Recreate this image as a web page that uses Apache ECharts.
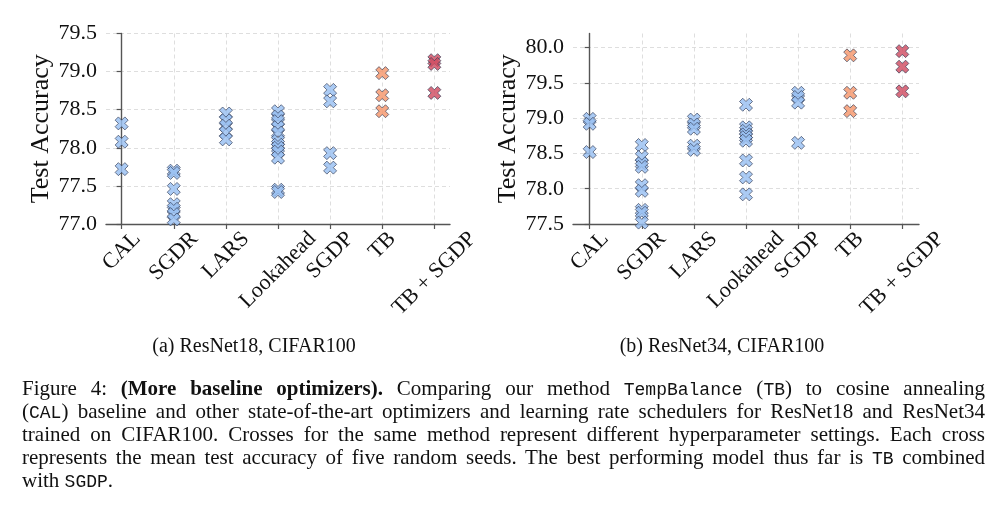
<!DOCTYPE html>
<html>
<head>
<meta charset="utf-8">
<script src="https://cdn.jsdelivr.net/npm/echarts@6/dist/echarts.min.js"></script>
<style>
html, body { margin: 0; padding: 0; background: #fff; }
#chart { position: absolute; left: 0; top: 0; width: 1005px; height: 511px; }
#caption { position: absolute; left: 22px; top: 377px; width: 963px;
  font-family: "Liberation Serif", serif; font-size: 21px; color: #111; }
#caption .ln { height: 23px; line-height: 23px; text-align: justify; text-align-last: justify; white-space: normal; }
#caption .last { text-align: left; text-align-last: left; }
#caption .tt { font-family: "Liberation Mono", "DejaVu Sans Mono", monospace; font-size: 18px; line-height: 10px; }
</style>
</head>
<body>
<div id="chart"></div>
<div id="caption">
  <div class="ln">Figure 4: <b>(More baseline optimizers).</b> Comparing our method <span class="tt">TempBalance</span> (<span class="tt">TB</span>) to cosine annealing</div>
  <div class="ln">(<span class="tt">CAL</span>) baseline and other state-of-the-art optimizers and learning rate schedulers for ResNet18 and ResNet34</div>
  <div class="ln">trained on CIFAR100. Crosses for the same method represent different hyperparameter settings. Each cross</div>
  <div class="ln">represents the mean test accuracy of five random seeds. The best performing model thus far is <span class="tt">TB</span> combined</div>
  <div class="ln last">with <span class="tt">SGDP</span>.</div>
</div>
<script>
// ---------- data ----------
const categories = ['CAL', 'SGDR', 'LARS', 'Lookahead', 'SGDP', 'TB', 'TB + SGDP'];
const yTicksLeft = [77.0, 77.5, 78.0, 78.5, 79.0, 79.5];
const yTicksRight = [77.5, 78.0, 78.5, 79.0, 79.5, 80.0];
const subtitles = ['(a) ResNet18, CIFAR100', '(b) ResNet34, CIFAR100'];

// ResNet18, CIFAR100
const r18CAL = [78.32, 78.08, 77.72];
const r18SGDR = [77.70, 77.67, 77.46, 77.26, 77.20, 77.13, 77.06];
const r18LARS = [78.45, 78.36, 78.29, 78.20, 78.11];
const r18Lookahead = [78.48, 78.41, 78.35, 78.27, 78.20, 78.09, 78.04, 78.00, 77.95, 77.87, 77.45, 77.42];
const r18SGDP = [78.76, 78.61, 77.93, 77.74];
const r18TB = [78.98, 78.69, 78.48];
const r18TBSGDP = [79.15, 79.10, 78.72];

// ResNet34, CIFAR100
const r34CAL = [78.99, 78.92, 78.52];
const r34SGDR = [78.62, 78.45, 78.36, 78.31, 78.05, 77.97, 77.70, 77.66, 77.52];
const r34LARS = [78.98, 78.91, 78.85, 78.61, 78.55];
const r34Lookahead = [79.19, 78.87, 78.82, 78.77, 78.73, 78.68, 78.40, 78.16, 77.92];
const r34SGDP = [79.36, 79.30, 79.22, 78.65];
const r34TB = [79.89, 79.36, 79.10];
const r34TBSGDP = [79.95, 79.73, 79.38];

const methodColors = ['#98c0f2', '#98c0f2', '#98c0f2', '#98c0f2', '#98c0f2', '#f5966b', '#cf4d62'];

// ---------- layout / style ----------
const SERIF = '"Liberation Serif", "Times New Roman", serif';
const AXIS_COLOR = '#555';
const GRID_COLOR = '#d6d6d6';
const XSYM = 'path://M3,0L4,1L3,2L4,3L3,4L2,3L1,4L0,3L1,2L0,1L1,0L2,1Z';
const LBL = 22;      // tick label font size
const LBL_PAD = 3.7; // gap between axis line and top of the rotated label's bounding box

const ctx = document.createElement('canvas').getContext('2d');
ctx.font = LBL + 'px ' + SERIF;
// rotated (45 deg), centre-anchored labels: the centre sits below the axis by pad + half the rotated box height
function labelMargin(text) {
  const w = ctx.measureText(text).width;
  return LBL_PAD + (w + LBL) / (2 * Math.SQRT2);
}

function xAxesFor(gridIndex, pad) {
  const min = -pad, max = categories.length - 1 + pad;
  const ticks = categories.map((c, i) => i);
  const main = {
    type: 'value', gridIndex: gridIndex, min: min, max: max, position: 'bottom',
    axisLine: { show: true, lineStyle: { color: AXIS_COLOR, width: 1.4 } },
    axisTick: { show: true, length: 5, customValues: ticks, lineStyle: { color: AXIS_COLOR, width: 1.2 } },
    axisLabel: { show: false },
    splitLine: { show: true, lineStyle: { color: GRID_COLOR, width: 0.8, type: [4, 3] } }
  };
  const labelAxes = categories.map((c, i) => ({
    type: 'value', gridIndex: gridIndex, min: min, max: max, position: 'bottom',
    axisLine: { show: false }, axisTick: { show: false }, splitLine: { show: false },
    axisLabel: {
      show: true, customValues: [i], rotate: 45, align: 'center', verticalAlign: 'middle',
      margin: labelMargin(c), fontFamily: SERIF, fontSize: LBL, color: '#111',
      showMinLabel: true, showMaxLabel: true,
      formatter: v => categories[Math.round(v)]
    }
  }));
  return [main].concat(labelAxes);
}
function yAxisFor(gridIndex, min, max, ticks) {
  return {
    type: 'value', gridIndex: gridIndex, min: min, max: max,
    name: 'Test Accuracy', nameLocation: 'middle', nameGap: 52,
    nameTextStyle: { fontFamily: SERIF, fontSize: 26, color: '#111' },
    axisLine: { show: true, lineStyle: { color: AXIS_COLOR, width: 1.4 } },
    axisTick: { show: true, length: 5, customValues: ticks, lineStyle: { color: AXIS_COLOR, width: 1.2 } },
    axisLabel: { show: true, customValues: ticks, margin: 9, fontFamily: SERIF, fontSize: LBL, color: '#111',
      showMinLabel: true, showMaxLabel: true,
      formatter: v => Number(v).toFixed(1) },
    splitLine: { show: true, lineStyle: { color: GRID_COLOR, width: 0.8, type: [4, 3] } }
  };
}

const xAxes = xAxesFor(0, 0.3).concat(xAxesFor(1, 0.32));
const mainX = [0, categories.length + 1];

const r18All = [r18CAL, r18SGDR, r18LARS, r18Lookahead, r18SGDP, r18TB, r18TBSGDP];
const r34All = [r34CAL, r34SGDR, r34LARS, r34Lookahead, r34SGDP, r34TB, r34TBSGDP];
const series = [];
[r18All, r34All].forEach((all, g) => {
  all.forEach((vals, i) => {
    series.push({
      type: 'scatter', name: categories[i], xAxisIndex: mainX[g], yAxisIndex: g,
      symbol: XSYM, symbolSize: 13,
      itemStyle: { color: methodColors[i], borderColor: '#2c3650', borderWidth: 0.8, opacity: 0.82 },
      emphasis: { disabled: true },
      data: vals.map(v => [i, v])
    });
  });
});

const chart = echarts.init(document.getElementById('chart'), null, { renderer: 'canvas' });
chart.setOption({
  animation: false,
  backgroundColor: '#fff',
  grid: [
    { left: 106, top: 33.5, width: 344, height: 190.5, outerBoundsMode: 'none', containLabel: false },
    { left: 573, top: 33.5, width: 346, height: 190.5, outerBoundsMode: 'none', containLabel: false }
  ],
  xAxis: xAxes,
  yAxis: [yAxisFor(0, 77.0, 79.5, yTicksLeft), yAxisFor(1, 77.5, 80.2, yTicksRight)],
  series: series,
  graphic: subtitles.map((t, i) => ({
    type: 'text', x: i === 0 ? 254 : 722, y: 347,
    style: { text: t, fontFamily: SERIF, fontSize: 20, fill: '#111', textAlign: 'center', textVerticalAlign: 'middle' }
  }))
});
</script>
</body>
</html>
